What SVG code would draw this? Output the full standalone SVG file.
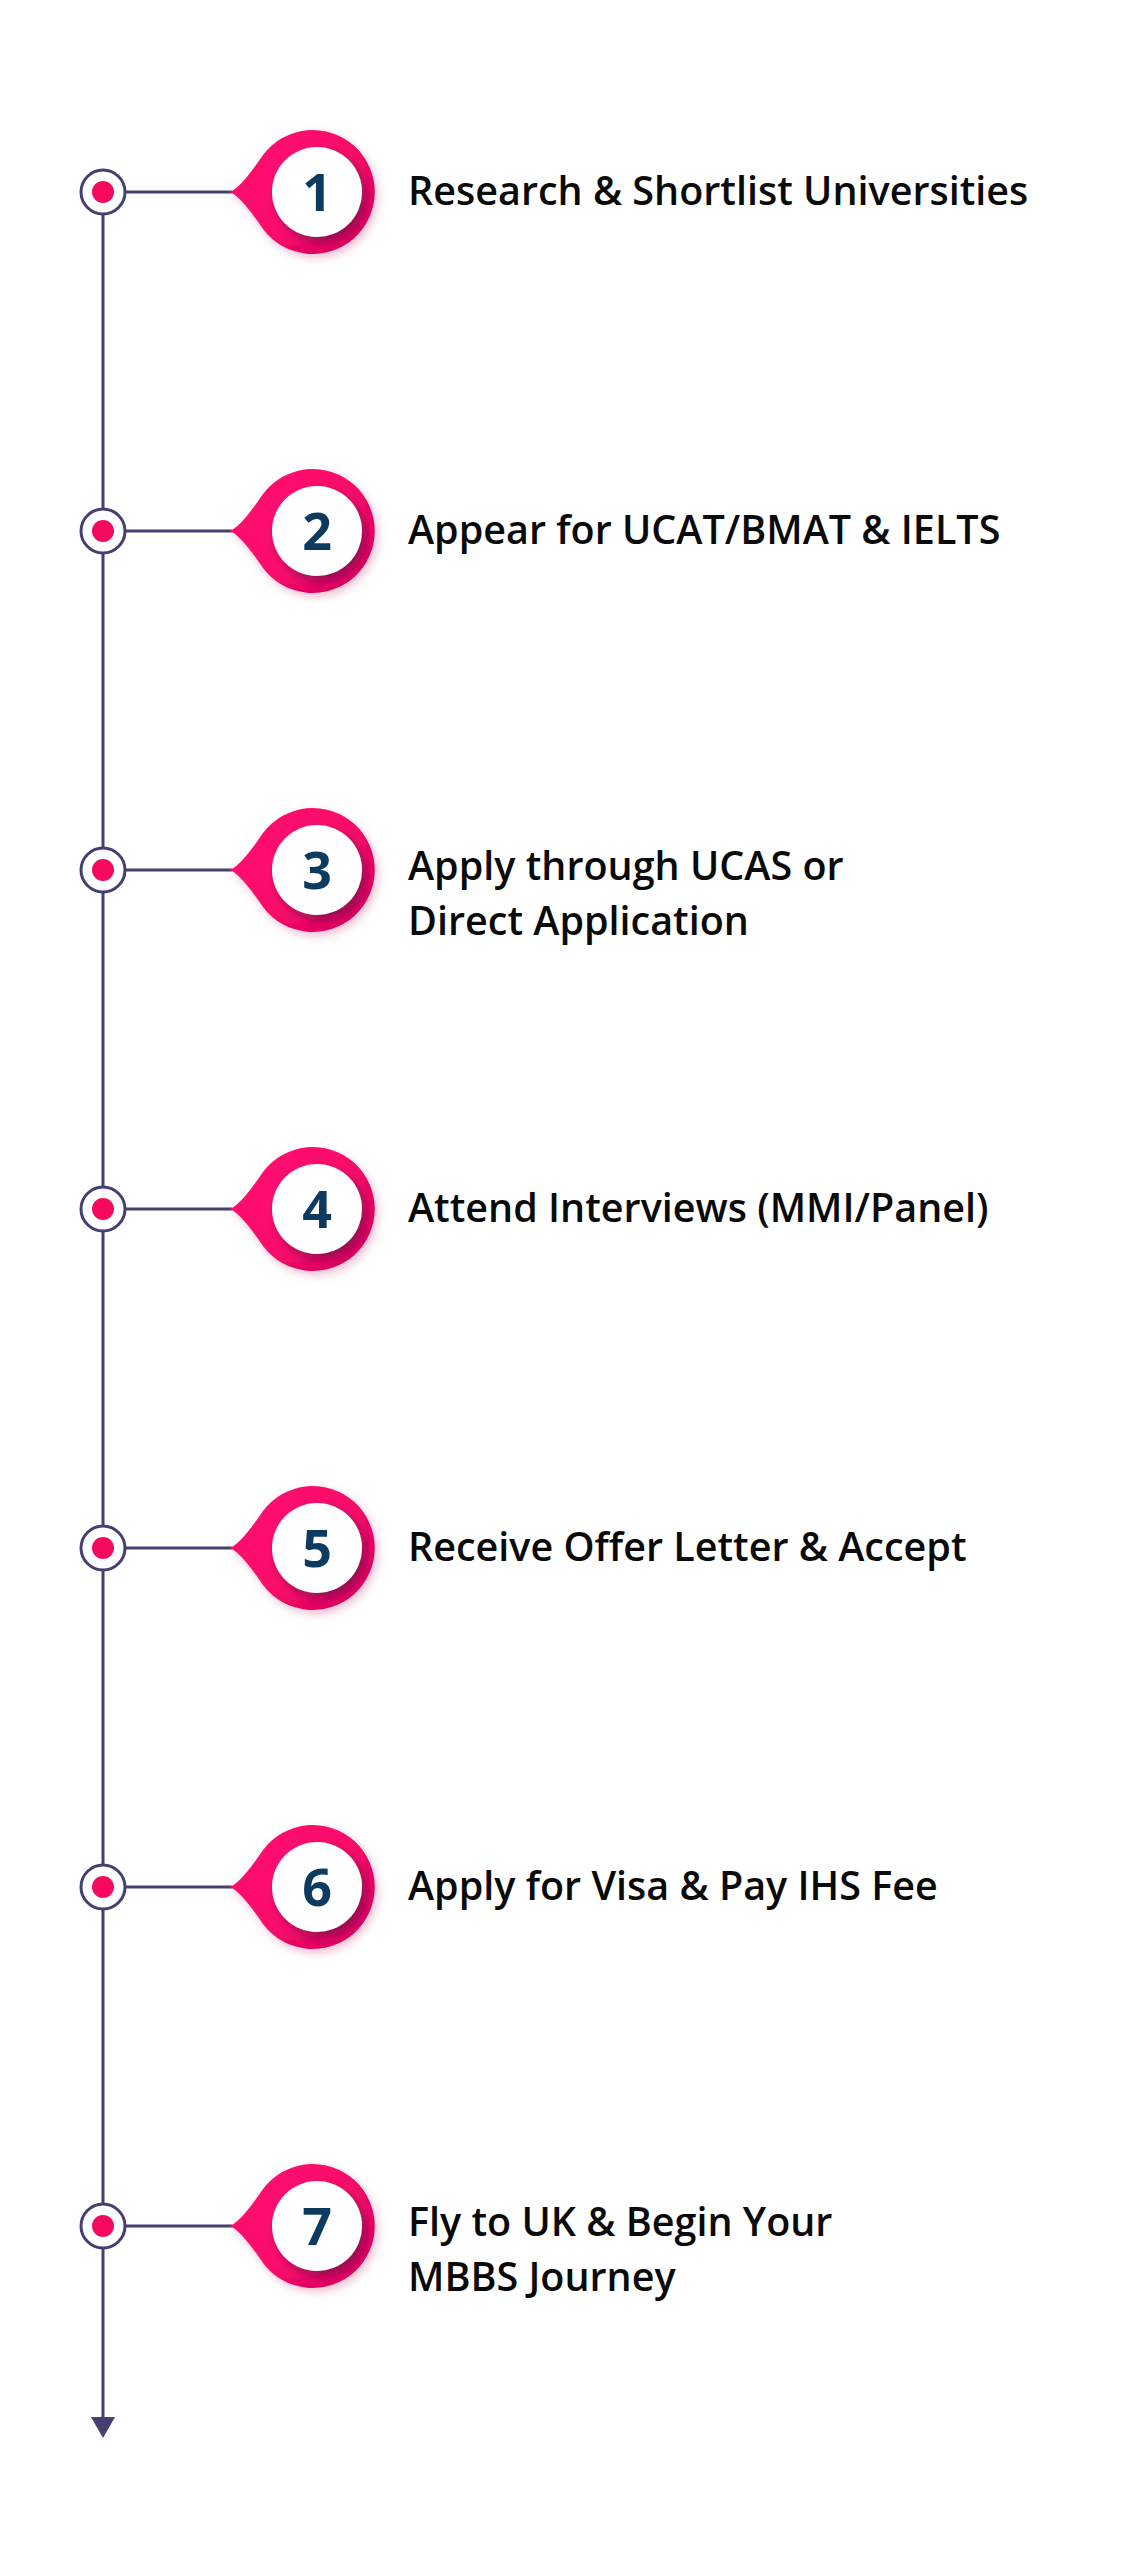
<svg xmlns="http://www.w3.org/2000/svg" width="1144" height="2560" viewBox="0 0 1144 2560">
<defs>
<style>
.line{stroke:#463f72;stroke-width:3;fill:none}
.dotring{fill:#ffffff;stroke:#463f72;stroke-width:3}
.dot{fill:#f5095f}
.pin{fill:url(#pinGrad);filter:url(#pinShadow)}
.inner{fill:#ffffff;filter:url(#innerShadow)}
.num{font-family:"Noto Sans","Open Sans",sans-serif;font-weight:700;font-size:52px;fill:#0d3a5f;text-anchor:middle}
.lbl{font-family:"Open Sans","Noto Sans",sans-serif;font-weight:600;font-size:39.5px;fill:#0a0a0a}
</style>
<radialGradient id="pinGrad" cx="0.35" cy="0.35" r="0.8">
<stop offset="0" stop-color="#ff0a70"/>
<stop offset="0.6" stop-color="#fb0a6b"/>
<stop offset="1" stop-color="#d4005a"/>
</radialGradient>
<filter id="pinShadow" x="-30%" y="-30%" width="160%" height="160%">
<feDropShadow dx="3" dy="4" stdDeviation="4" flood-color="#c0004f" flood-opacity="0.25"/>
</filter>
<filter id="innerShadow" x="-30%" y="-30%" width="160%" height="160%">
<feDropShadow dx="4" dy="5" stdDeviation="4" flood-color="#5a0a45" flood-opacity="0.6"/>
</filter>
<path id="pinShape" d="M228,0 Q238,0 263,-37 A62,62 0 1 1 263,37 Q238,0 228,0 Z"/>
</defs>
<rect width="1144" height="2560" fill="#ffffff"/>
<g id="connectors">
<line class="line" x1="103" y1="192" x2="103" y2="2420"/>
<polygon points="91,2417 115,2417 103,2438" fill="#463f72"/>
<line class="line" x1="126" y1="192" x2="232" y2="192"/>
<line class="line" x1="126" y1="531" x2="232" y2="531"/>
<line class="line" x1="126" y1="870" x2="232" y2="870"/>
<line class="line" x1="126" y1="1209" x2="232" y2="1209"/>
<line class="line" x1="126" y1="1548" x2="232" y2="1548"/>
<line class="line" x1="126" y1="1887" x2="232" y2="1887"/>
<line class="line" x1="126" y1="2226" x2="232" y2="2226"/>
</g>
<g id="step1" transform="translate(0,192)">
<circle class="dotring" cx="103" cy="0" r="22"/><circle class="dot" cx="103" cy="0" r="11"/>
<use href="#pinShape" class="pin"/><circle class="inner" cx="317" cy="0" r="45"/>
<text class="num" x="317" y="19">1</text>
<text class="lbl" x="408" y="13">Research &amp; Shortlist Universities</text>
</g>
<g id="step2" transform="translate(0,531)">
<circle class="dotring" cx="103" cy="0" r="22"/><circle class="dot" cx="103" cy="0" r="11"/>
<use href="#pinShape" class="pin"/><circle class="inner" cx="317" cy="0" r="45"/>
<text class="num" x="317" y="19">2</text>
<text class="lbl" x="408" y="13">Appear for UCAT/BMAT &amp; IELTS</text>
</g>
<g id="step3" transform="translate(0,870)">
<circle class="dotring" cx="103" cy="0" r="22"/><circle class="dot" cx="103" cy="0" r="11"/>
<use href="#pinShape" class="pin"/><circle class="inner" cx="317" cy="0" r="45"/>
<text class="num" x="317" y="19">3</text>
<text class="lbl" x="408" y="10">Apply through UCAS or</text>
<text class="lbl" x="408" y="65">Direct Application</text>
</g>
<g id="step4" transform="translate(0,1209)">
<circle class="dotring" cx="103" cy="0" r="22"/><circle class="dot" cx="103" cy="0" r="11"/>
<use href="#pinShape" class="pin"/><circle class="inner" cx="317" cy="0" r="45"/>
<text class="num" x="317" y="19">4</text>
<text class="lbl" x="408" y="13">Attend Interviews (MMI/Panel)</text>
</g>
<g id="step5" transform="translate(0,1548)">
<circle class="dotring" cx="103" cy="0" r="22"/><circle class="dot" cx="103" cy="0" r="11"/>
<use href="#pinShape" class="pin"/><circle class="inner" cx="317" cy="0" r="45"/>
<text class="num" x="317" y="19">5</text>
<text class="lbl" x="408" y="13">Receive Offer Letter &amp; Accept</text>
</g>
<g id="step6" transform="translate(0,1887)">
<circle class="dotring" cx="103" cy="0" r="22"/><circle class="dot" cx="103" cy="0" r="11"/>
<use href="#pinShape" class="pin"/><circle class="inner" cx="317" cy="0" r="45"/>
<text class="num" x="317" y="19">6</text>
<text class="lbl" x="408" y="13">Apply for Visa &amp; Pay IHS Fee</text>
</g>
<g id="step7" transform="translate(0,2226)">
<circle class="dotring" cx="103" cy="0" r="22"/><circle class="dot" cx="103" cy="0" r="11"/>
<use href="#pinShape" class="pin"/><circle class="inner" cx="317" cy="0" r="45"/>
<text class="num" x="317" y="19">7</text>
<text class="lbl" x="408" y="10">Fly to UK &amp; Begin Your</text>
<text class="lbl" x="408" y="65">MBBS Journey</text>
</g>
</svg>
